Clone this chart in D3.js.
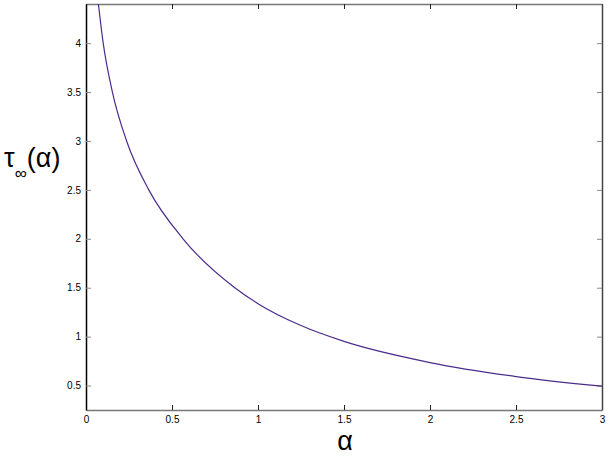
<!DOCTYPE html>
<html>
<head>
<meta charset="utf-8">
<script src="https://cdn.jsdelivr.net/npm/d3@7"></script>
<style>
  body { margin: 0; background: #fff; }
  text { font-family: "Liberation Sans", Arial, sans-serif; }
</style>
</head>
<body>
<script>
var width = 610,
    height = 460;

var lineColor = '#4b2c8c';

var margin = {
  top: 4,
  right: 8,
  left: 86,
  bottom: 50
};

// values
var alphas = [0.072, 0.1, 0.1535, 0.236, 0.365, 0.564, 0.865, 1.0, 1.25, 1.5, 2.0, 2.5, 3.0];
var taus   = [4.40, 4.0, 3.5, 3.0, 2.5, 2.0, 1.5, 1.337, 1.113, 0.951, 0.735, 0.592, 0.493];
var xTicks = [0, 0.5, 1, 1.5, 2, 2.5, 3];
var yTicks = [0.5, 1, 1.5, 2, 2.5, 3, 3.5, 4];

var data = alphas.map((a, i) => ({a: a, t: taus[i]}));

var svg = d3.select('body')
      .append('svg')
      .attr('width', width)
      .attr('height', height);

var xScale = d3.scaleLinear()
    .domain([0, 3])
    .range([margin.left, width - margin.right]);

var yScale = d3.scaleLinear()
    .domain([0.25, 4.4])
    .range([height - margin.bottom, margin.top]);

svg.append('clipPath')
    .attr('id', 'clip')
  .append('rect')
    .attr('x', margin.left)
    .attr('y', margin.top)
    .attr('width', width - margin.left - margin.right)
    .attr('height', height - margin.top - margin.bottom);

var fmt = d3.format('');

// bottom / top
var xBottom = svg.append('g')
    .attr('transform', 'translate(0,' + (height - margin.bottom) + ')')
    .call(d3.axisBottom(xScale).tickValues(xTicks).tickFormat(fmt)
          .tickSizeInner(-5).tickSizeOuter(0).tickPadding(6));
xBottom.select('.domain').attr('stroke', '#777').attr('stroke-width', 1.5);
xBottom.selectAll('.tick line').attr('stroke', '#222');

var xTop = svg.append('g')
    .attr('transform', 'translate(0,' + margin.top + ')')
    .call(d3.axisTop(xScale).tickValues(xTicks).tickFormat('')
          .tickSizeInner(-5).tickSizeOuter(0));
xTop.select('.domain').attr('stroke', '#777').attr('stroke-width', 1.5);
xTop.selectAll('.tick line').attr('stroke', '#222');

// left / right
var yLeft = svg.append('g')
    .attr('transform', 'translate(' + margin.left + ',0)')
    .call(d3.axisLeft(yScale).tickValues(yTicks).tickFormat(fmt)
          .tickSizeInner(-5).tickSizeOuter(0).tickPadding(5));
yLeft.select('.domain').attr('stroke', '#000').attr('stroke-width', 1.5);
yLeft.selectAll('.tick line').attr('stroke', '#888');

var yRight = svg.append('g')
    .attr('transform', 'translate(' + (width - margin.right) + ',0)')
    .call(d3.axisRight(yScale).tickValues(yTicks).tickFormat('')
          .tickSizeInner(-5).tickSizeOuter(0));
yRight.select('.domain').attr('stroke', '#444').attr('stroke-width', 1.5);
yRight.selectAll('.tick line').attr('stroke', '#888');

svg.selectAll('.tick text')
    .style('font-size', '10px')
    .style('font-family', '"Liberation Sans", Arial, sans-serif')
    .attr('fill', '#000');

var line = d3.line()
    .x((d) => xScale(d.a))
    .y((d) => yScale(d.t))
    .curve(d3.curveMonotoneX);

svg.append('path')
    .datum(data)
    .attr('clip-path', 'url(#clip)')
    .attr('fill', 'none')
    .attr('stroke', lineColor)
    .attr('stroke-width', 1.2)
    .attr('d', line);

// axis labels
svg.append('text')
    .attr('x', (xScale(0) + xScale(3)) / 2 + 1)
    .attr('y', 450)
    .attr('text-anchor', 'middle')
    .style('font-size', '27px')
    .text('α');

var yl = svg.append('text')
    .attr('x', 4)
    .attr('y', 167)
    .style('font-size', '27px');
yl.append('tspan').text('τ');
yl.append('tspan')
    .attr('dy', 12)
    .style('font-size', '17px')
    .text('∞');
yl.append('tspan')
    .attr('dy', -12)
    .text('(α)');
</script>
</body>
</html>
